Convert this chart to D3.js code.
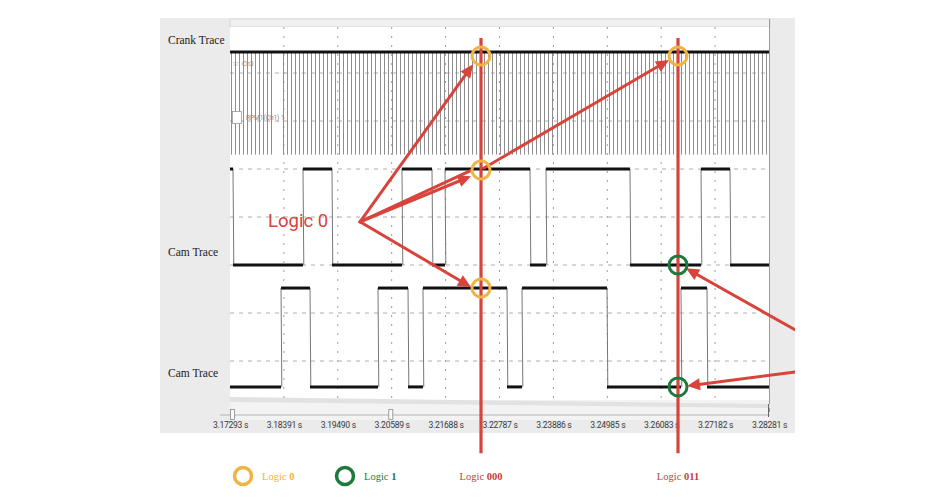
<!DOCTYPE html>
<html><head><meta charset="utf-8">
<script src="https://cdn.jsdelivr.net/npm/d3@7/dist/d3.min.js"></script>
<style>body{margin:0;background:#fff;}svg{display:block;}</style>
</head><body>
<svg id="c" width="952" height="500"></svg>
<script>
// ---------- data ----------
const tickValues = [3.17293, 3.18391, 3.19490, 3.20589, 3.21688, 3.22787, 3.23886, 3.24985, 3.26083, 3.27182, 3.28281];
const tickLabels = ["3.17293 s","3.18391 s","3.19490 s","3.20589 s","3.21688 s","3.22787 s","3.23886 s","3.24985 s","3.26083 s","3.27182 s","3.28281 s"];
const traceNames = ["Crank Trace", "Cam Trace", "Cam Trace"];
const traceLabelDiv = [0.31, 4.73, 7.24];          // vertical position (grid divisions)
// crank: runs of teeth [start, end, tooth period]
const crankRuns = [[3.17310, 3.18170, 0.00082], [3.18373, 3.28270, 0.00082]];
const crankLevels = [0.56, 2.70];                   // [high, low] divisions
// cam traces: level changes
const camALevels = [3.0, 5.0];
const camAStart = 1;
const camAEdges = [3.17354, 3.18781, 3.19372, 3.20799, 3.21411, 3.21676, 3.23409, 3.23735, 3.25447, 3.26895, 3.27486];
const camBLevels = [5.48, 7.54];
const camBStart = 0;
const camBEdges = [3.18333, 3.18924, 3.20310, 3.20922, 3.21227, 3.22940, 3.23246, 3.24979, 3.26487, 3.27017];
// decode markers
const markerTimes = [3.22410, 3.26426];
const markerLabels = ["000", "011"];
const markerSpan = [0.27, 8.92];
const circleTimes = [3.22410, 3.22410, 3.22410, 3.26426, 3.26426, 3.26426];
const circleDivs  = [0.645, 3.02, 5.48, 0.645, 5.0, 7.54];
const circleLogic = [0, 0, 0, 0, 1, 1];
// annotation arrows (time, division)
const arrowFromT = [3.19943, 3.19943, 3.19943, 3.19943, 3.22471, 3.28811, 3.28811];
const arrowFromD = [4.10, 4.10, 4.10, 4.10, 2.98, 6.35, 7.23];
const arrowToT   = [3.22247, 3.22206, 3.22186, 3.22206, 3.26243, 3.26589, 3.26609];
const arrowToD   = [0.82, 3.15, 3.04, 5.46, 0.73, 5.07, 7.52];
const arrowHead  = [true, true, false, true, true, true, true];
const legendLabels = ["0", "1"];

// ---------- setup ----------
const svg = d3.select("#c");
const RED = "#d8433b", ORANGE = "#efb443", GREEN = "#1d7a3e";
const x = d3.scaleLinear().domain([3.17293, 3.28281]).range([230, 769]);
const y = d3.scaleLinear().domain([0, 8]).range([25, 409]);
const plotTop = 27, plotBot = 400;

// panels
svg.append("rect").attr("x",160).attr("y",18).attr("width",635).attr("height",415).attr("fill","#ebebeb");
svg.append("rect").attr("x",230).attr("y",plotBot).attr("width",540).attr("height",20).attr("fill","#f3f3f3");
svg.append("rect").attr("x",230).attr("y",19).attr("width",540).attr("height",8).attr("fill","#f1f1f1").attr("stroke","#d2d2d2").attr("stroke-width",0.8);
svg.append("rect").attr("x",230).attr("y",plotTop).attr("width",539).attr("height",plotBot-plotTop).attr("fill","#fff");
svg.append("line").attr("x1",769.5).attr("x2",769.5).attr("y1",19).attr("y2",412).attr("stroke","#9a9a9a").attr("stroke-width",1);
// zoom wedge below plot
svg.append("path").attr("d",`M230,${plotBot-3} L770,${plotBot+4} L770,${plotBot+8} L230,${plotBot+2} Z`).attr("fill","#e2e2e2");

// grid
const g = svg.append("g");
g.selectAll(".vg").data(tickValues.slice(1,-1)).join("line")
  .attr("x1",d=>x(d)).attr("x2",d=>x(d)).attr("y1",plotTop).attr("y2",plotBot)
  .attr("stroke","#9d9d9d").attr("stroke-width",1).attr("stroke-dasharray","2,7");
g.selectAll(".hg").data([1,2,3,4,5,6,7]).join("line")
  .attr("x1",230).attr("x2",769).attr("y1",d=>y(d)).attr("y2",d=>y(d))
  .attr("stroke","#a5a5a5").attr("stroke-width",0.9).attr("stroke-dasharray","4,5");

// crank teeth
let teeth = [];
crankRuns.forEach(r => { for (let t = r[0]; t <= r[1] + 1e-9; t += r[2]) teeth.push(t); });
svg.append("g").selectAll("line").data(teeth).join("line")
  .attr("x1",d=>Math.round(x(d))+0.5).attr("x2",d=>Math.round(x(d))+0.5)
  .attr("y1",y(crankLevels[0])).attr("y2",y(crankLevels[1]))
  .attr("stroke","#8e8e8e").attr("stroke-width",1);
svg.append("line").attr("x1",x(3.17293)).attr("x2",x(3.28281)).attr("y1",y(crankLevels[0])).attr("y2",y(crankLevels[0]))
  .attr("stroke","#111").attr("stroke-width",3);
// small channel labels
svg.append("text").attr("x",232).attr("y",66).attr("font-family","DejaVu Sans").attr("font-size",8).attr("fill","#888").text("☆");
svg.append("text").attr("x",242).attr("y",66).attr("font-family","Roboto").attr("font-size",6.5).attr("fill","#888").text("Ch3");
svg.append("rect").attr("x",232.5).attr("y",111.5).attr("width",9).attr("height",12).attr("fill","#fff").attr("stroke","#999").attr("stroke-width",0.8);
svg.append("text").attr("x",246).attr("y",120).attr("font-family","Roboto").attr("font-size",6.5).attr("fill","#888").text("RPM1(Ch1) 1");

// cam traces
function drawCam(levels, start, edges) {
  const times = [x.domain()[0], ...edges, x.domain()[1]];
  const gg = svg.append("g");
  gg.selectAll("line.v").data(edges).join("line")
    .attr("x1",d=>x(d)).attr("x2",d=>x(d)+0.8).attr("y1",y(levels[0])).attr("y2",y(levels[1]))
    .attr("stroke","#777").attr("stroke-width",1);
  const segs = d3.range(times.length - 1).map(i => ({t0: times[i], t1: times[i+1], lv: (start + i) % 2}));
  gg.selectAll("line.h").data(segs).join("line")
    .attr("x1",d=>x(d.t0)).attr("x2",d=>x(d.t1))
    .attr("y1",d=>y(d.lv ? levels[0] : levels[1])).attr("y2",d=>y(d.lv ? levels[0] : levels[1]))
    .attr("stroke","#111").attr("stroke-width",3);
}
drawCam(camALevels, camAStart, camAEdges);
drawCam(camBLevels, camBStart, camBEdges);

// trace labels
svg.selectAll(".tl").data(traceNames).join("text")
  .attr("x",168).attr("y",(d,i)=>y(traceLabelDiv[i])).attr("dy","0.35em")
  .attr("font-family","Liberation Serif").attr("font-size",11.5).attr("fill","#222").text(d=>d);

// axis
const ax = svg.append("g").attr("transform","translate(0,422)")
  .call(d3.axisBottom(x).tickValues(tickValues).tickFormat((d,i)=>tickLabels[i]).tickSize(0).tickPadding(0));
ax.select(".domain").remove();
ax.selectAll("text").attr("font-family","Roboto").attr("font-size",8.6).attr("fill","#3a3a3a").attr("letter-spacing","-0.3");
// scrollbar
svg.append("line").attr("x1",220).attr("x2",770).attr("y1",415).attr("y2",415).attr("stroke","#b5b5b5").attr("stroke-width",1);
svg.selectAll(".hd").data([tickValues[0], 3.20520]).join("rect")
  .attr("x",d=>x(d)+0.5).attr("y",409.5).attr("width",4).attr("height",10).attr("fill","#fafafa").attr("stroke","#8a8a8a").attr("stroke-width",0.8);
svg.append("line").attr("x1",768.5).attr("x2",768.5).attr("y1",404).attr("y2",417).attr("stroke","#666").attr("stroke-width",1);

// marker lines
svg.selectAll(".ml").data(markerTimes).join("line")
  .attr("x1",d=>x(d)).attr("x2",d=>x(d)).attr("y1",y(markerSpan[0])).attr("y2",y(markerSpan[1]))
  .attr("stroke",RED).attr("stroke-width",3.2);

// arrows
const ag = svg.append("g");
arrowFromT.forEach((ft, i) => {
  const x0 = x(ft), y0 = y(arrowFromD[i]), x1 = x(arrowToT[i]), y1 = y(arrowToD[i]);
  const a = Math.atan2(y1 - y0, x1 - x0), L = 13, W = 6;
  const sh = arrowHead[i] ? 8 : 0;
  ag.append("line").attr("x1",x0).attr("y1",y0).attr("x2",x1 - sh*Math.cos(a)).attr("y2",y1 - sh*Math.sin(a))
    .attr("stroke",RED).attr("stroke-width",3).attr("stroke-linecap","round");
  if (arrowHead[i]) {
    const bx = x1 - L*Math.cos(a), by = y1 - L*Math.sin(a);
    ag.append("path").attr("d",`M${x1},${y1}L${bx - W*Math.sin(a)},${by + W*Math.cos(a)}L${bx + W*Math.sin(a)},${by - W*Math.cos(a)}Z`)
      .attr("fill",RED);
  }
});
// cover beyond figure right edge
svg.append("rect").attr("x",795).attr("y",0).attr("width",157).attr("height",500).attr("fill","#fff");

// circles
svg.selectAll(".cc").data(circleTimes).join("circle")
  .attr("cx",d=>x(d)).attr("cy",(d,i)=>y(circleDivs[i])).attr("r",9)
  .attr("fill","none").attr("stroke",(d,i)=>circleLogic[i] ? GREEN : ORANGE).attr("stroke-width",3);

// Logic 0 label
svg.append("text").attr("x",268).attr("y",227).attr("font-family","Roboto").attr("font-size",18.5).attr("fill",RED).text("Logic 0");

// legend
const lg = svg.append("g");
const legX = [243, 345], legCol = [ORANGE, GREEN];
legendLabels.forEach((l, i) => {
  lg.append("circle").attr("cx",legX[i]).attr("cy",476).attr("r",8.5).attr("fill","none").attr("stroke",legCol[i]).attr("stroke-width",3.5);
  const t = lg.append("text").attr("x",legX[i]+19).attr("y",480).attr("font-family","Liberation Serif").attr("font-size",10.5).attr("fill",legCol[i]);
  t.append("tspan").text("Logic ");
  t.append("tspan").attr("font-weight","bold").text(l);
});
markerTimes.forEach((m, i) => {
  const t = lg.append("text").attr("x",x(m)).attr("y",480).attr("text-anchor","middle").attr("font-family","Liberation Serif").attr("font-size",10.5).attr("fill","#c9403c");
  t.append("tspan").text("Logic ");
  t.append("tspan").attr("font-weight","bold").text(markerLabels[i]);
});
</script>
</body></html>
